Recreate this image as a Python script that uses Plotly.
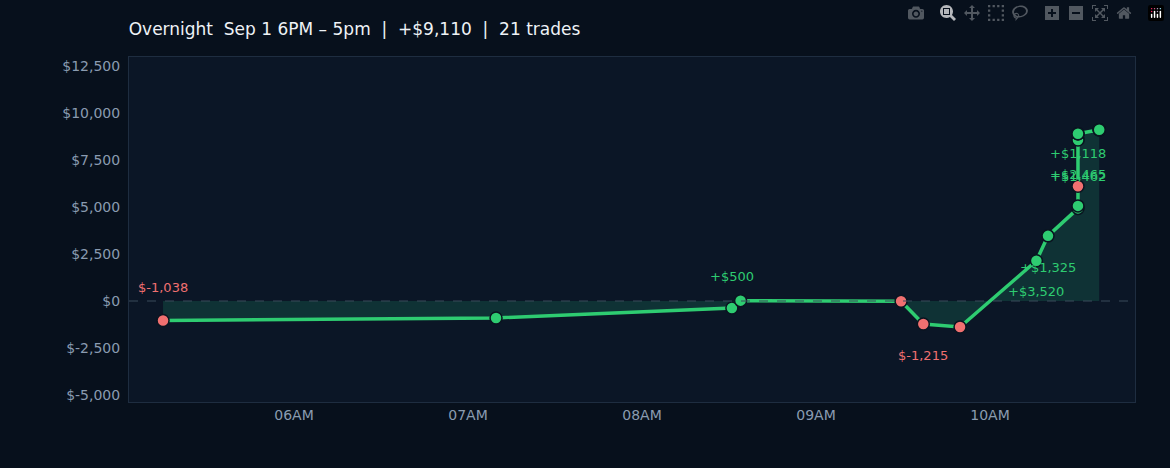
import plotly.graph_objects as go

# cumulative P&L per trade
times = ["05:14:50", "07:09:40", "08:31:00", "08:34:00", "09:29:20", "09:37:00",
         "09:49:40", "10:16:00", "10:20:00", "10:30:20", "10:30:20", "10:30:20",
         "10:30:20", "10:30:20", "10:30:20", "10:30:20", "10:30:20", "10:37:40",
         "10:37:40", "10:37:40", "10:37:40"]
pnl = [-1038, -900, -370, 20, -10, -1225, -1380, 2140, 3465, 4927, 5060, 8600,
       6100, 8565, 8900, 8900, 8900, 9110, 9110, 9110, 9110]
losses = [True, False, False, False, True, True, True, False, False, False, False,
          False, True, False, False, False, False, False, False, False, False]

labels = [("05:14:50", "$-1,038"), ("08:31:00", "+$500"),
          ("09:37:00", "$-1,215"), ("10:16:00", "+$3,520"),
          ("10:20:00", "+$1,325"), ("10:30:20", "+$1,462"),
          ("10:30:20", "+$2,465"), ("10:30:20", "+$1,118")]
label_y = [700, 1300, -2900, 500, 1800, 6600, 6750, 7850]

day = "2024-09-01 "
x = [day + t for t in times]
green = "#2ecc71"
red = "#f07070"

fig = go.Figure()
fig.add_trace(go.Scatter(
    x=x, y=pnl, mode="lines+markers", fill="tozeroy",
    fillcolor="rgba(30,150,110,0.22)",
    line=dict(color=green, width=3.5),
    marker=dict(size=12, color=[red if l else green for l in losses],
                line=dict(color="#0a1420", width=1.5)),
    showlegend=False,
))

for (t, txt), ly in zip(labels, label_y):
    fig.add_annotation(x=day + t, y=ly, text=txt, showarrow=False,
                       font=dict(size=13, color=red if txt.startswith("$-") else green))

fig.add_hline(y=0, line=dict(color="#3a4a5a", width=1.2, dash="dash"))

fig.update_layout(
    width=1170, height=468,
    paper_bgcolor="#07101c", plot_bgcolor="#0b1626",
    margin=dict(l=129, r=35, t=57, b=66),
    title=dict(text="Overnight  Sep 1 6PM – 5pm  |  +$9,110  |  21 trades",
               x=0.11, xanchor="left", y=0.95,
               font=dict(size=17, color="#eef2f6", family="DejaVu Sans")),
    font=dict(family="DejaVu Sans", color="#8a9bb0", size=14),
    xaxis=dict(range=[day + "05:03:06", day + "10:50:00"], tickformat="%I%p",
               dtick=3600000, showgrid=False, zeroline=False,
               showline=True, linecolor="#1e2d40", mirror=True),
    yaxis=dict(range=[-5372, 12979], tickvals=[-5000, -2500, 0, 2500, 5000, 7500, 10000, 12500],
               ticktext=["$-5,000", "$-2,500", "$0", "$2,500", "$5,000", "$7,500", "$10,000", "$12,500"],
               showgrid=False, zeroline=False, showline=True, linecolor="#1e2d40",
               mirror=True, ticks="outside", ticklen=5, tickcolor="#07101c"),
)

fig.write_html("out.html", post_script="document.body.style.margin='0';")
